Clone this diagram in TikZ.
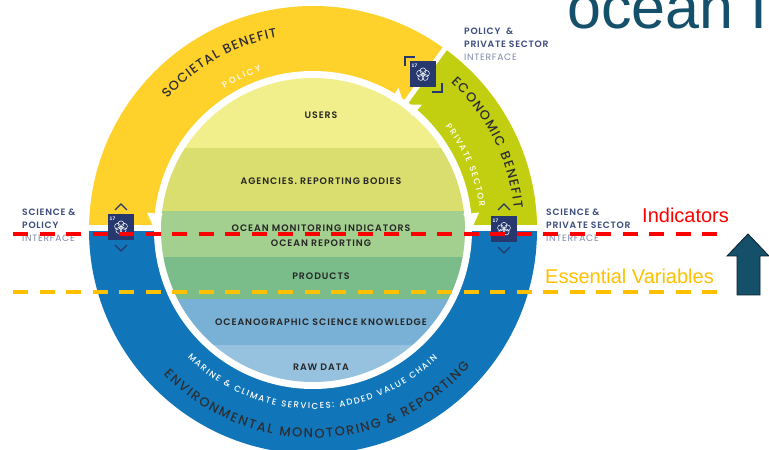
\documentclass[tikz,border=0pt]{standalone}
\usepackage{fontspec}
\usepackage{amsmath}
\setmainfont{Liberation Sans}
\newfontfamily\ringfont{Poppins Medium}
\newfontfamily\bandfont[LetterSpace=10]{Poppins SemiBold}
\newfontfamily\sidefont[LetterSpace=8]{Poppins SemiBold}
\newfontfamily\subfont[LetterSpace=8]{Poppins}
\usetikzlibrary{arrows,shapes,positioning,decorations.text}
\definecolor{oceanyellow}{RGB}{255,210,43}
\definecolor{oceangreen}{RGB}{193,207,16}
\definecolor{oceanblue}{RGB}{17,118,185}
\definecolor{bandusers}{RGB}{241,239,139}
\definecolor{bandagency}{RGB}{218,222,110}
\definecolor{bandindic}{RGB}{163,207,143}
\definecolor{bandprod}{RGB}{122,189,139}
\definecolor{bandknow}{RGB}{121,177,214}
\definecolor{bandraw}{RGB}{150,193,223}
\definecolor{sdgnavy}{RGB}{38,56,110}
\definecolor{titleteal}{RGB}{21,80,107}
\definecolor{ringtext}{RGB}{45,45,50}
\definecolor{essyellow}{RGB}{255,192,0}
\tikzstyle{bandlabel} = [font=\bandfont\fontsize{9.4}{10}\selectfont,color=black!85]
\tikzstyle{sidelabel} = [font=\sidefont\fontsize{9.2}{13}\selectfont,color=sdgnavy!90,align=left,anchor=north west,inner sep=0pt]
\tikzstyle{sidesub} = [font=\subfont\fontsize{9.2}{13}\selectfont,color=sdgnavy!60,anchor=north west,inner sep=0pt]
\tikzstyle{ringbig} = [decorate,decoration={text along path,text align={fit to path},text color=ringtext,
  text={|\ringfont\fontsize{13}{13}\selectfont|#1}}]
\tikzstyle{ringsmall} = [decorate,decoration={text along path,text align={fit to path},text color=white,
  text={|\ringfont\fontsize{8.6}{9}\selectfont|#1}}]
\tikzstyle{chevron} = [draw=sdgnavy,line width=1.1pt]
\tikzstyle{ringtip} = [fill=white]
\tikzset{
  sdgbadge/.pic={
    \fill[sdgnavy] (-13,-13) rectangle (13,13);
    \node[font=\bfseries\fontsize{5}{5}\selectfont,color=white,inner sep=0pt] at (-8.5,8.5) {17};
    \foreach \a in {18,90,162,234,306}
      \draw[white,line width=0.5pt] (\a:3.6) circle (3);
  }
}
\begin{document}
\begin{tikzpicture}[x=1pt,y=1pt]
\useasboundingbox (0,0) rectangle (769,450);
\clip (0,0) rectangle (769,450);
% Title, cut by the slide
\node[font=\fontsize{61}{61}\selectfont,color=titleteal,anchor=base west,inner sep=0pt] (title) at (567,421) {ocean I};

% Outer ring
\begin{scope}[shift={(313,220)}]
\begin{scope}
\clip (-240,5) rectangle (240,240);
\fill[oceanyellow] (0,0) circle (224);
\fill[oceangreen] (0,0) -- (0:224) arc (0:54:224) -- cycle;
\draw[white,line width=5pt] (54:150) -- (54:235);
\end{scope}
\begin{scope}
\clip (-240,-2) rectangle (240,-240);
\fill[oceanblue] (0,0) circle (224);
\end{scope}

% Inner disk
\fill[white] (0,0) circle (159);
\begin{scope}
\clip (0,0) circle (152);
\fill[bandusers] (-160,160) rectangle (160,82);
\fill[bandagency] (-160,82) rectangle (160,19);
\fill[bandindic] (-160,19) rectangle (160,-27);
\fill[bandprod] (-160,-27) rectangle (160,-69);
\fill[bandknow] (-160,-69) rectangle (160,-115);
\fill[bandraw] (-160,-115) rectangle (160,-160);
\end{scope}
\fill[white] (-158,-2) rectangle (-152,5);
\fill[white] (158,-2) rectangle (152,5);

% Ring arrow heads
\fill[ringtip] (178.6:160) -- (174:151) -- (174:167) -- cycle;
\fill[ringtip] (1.4:160) -- (6:151) -- (6:167) -- cycle;
\fill[ringtip] (54.6:156) -- (59:151) -- (59:166) -- cycle;
\fill[ringtip] (53.4:156) -- (49:151) -- (49:166) -- cycle;

% Text on the ring
\path[ringbig=SOCIETAL BENEFIT] (138:196) arc (138:100.5:196);
\path[ringsmall=POLICY] (122:167) arc (122:108:167);
\path[ringbig=ECONOMIC BENEFIT] (47:202) arc (47:6:202);
\path[ringsmall=PRIVATE SECTOR] (38:168) arc (38:8:168);
\path[ringbig=ENVIRONMENTAL MONOTORING {\&} REPORTING] (224:208) arc (224:319:208);
\path[ringsmall=MARINE {\&} CLIMATE SERVICES: ADDED VALUE CHAIN] (225.5:179) arc (225.5:314:179);
\end{scope}

% Band labels
\node[bandlabel] (users) at (321,335) {USERS};
\node[bandlabel] (agencies) at (321,269) {AGENCIES. REPORTING BODIES};
\node[bandlabel] (indicators) at (321,222) {OCEAN MONITORING INDICATORS};
\node[bandlabel] (reporting) at (321,207) {OCEAN REPORTING};
\node[bandlabel] (products) at (321,174) {PRODUCTS};
\node[bandlabel] (knowledge) at (321,128) {OCEANOGRAPHIC SCIENCE KNOWLEDGE};
\node[bandlabel] (rawdata) at (321,83) {RAW DATA};

% Badges
\pic at (121,222.5) {sdgbadge};
\pic at (504,221) {sdgbadge};
\pic at (423,375.5) {sdgbadge};
\draw[chevron] (115,240) -- (121,246) -- (127,240);
\draw[chevron] (115,205) -- (121,199) -- (127,205);
\draw[chevron] (498,240) -- (504,246) -- (510,240);
\draw[chevron] (498,203) -- (504,197) -- (510,203);
\draw[chevron] (405,384) -- (405,393) -- (415,393);
\draw[chevron] (432,358) -- (442,358) -- (442,367);

% Interface labels
\node[sidelabel] (sciencepolicy) at (22,241) {SCIENCE \&\\POLICY};
\node[sidesub,below=6pt of sciencepolicy.south west,anchor=north west] (interfaceA) {INTERFACE};
\node[sidelabel] (policyprivate) at (464,422) {POLICY \ \&\\PRIVATE SECTOR};
\node[sidesub,below=6pt of policyprivate.south west,anchor=north west] (interfaceB) {INTERFACE};
\node[sidelabel] (scienceprivate) at (546,241) {SCIENCE \&\\PRIVATE SECTOR};
\node[sidesub,below=6pt of scienceprivate.south west,anchor=north west] (interfaceC) {INTERFACE};

% Levels
\coordinate (redL) at (13,216);
\coordinate (redR) at (727,216);
\coordinate (yellowL) at (13,158);
\coordinate (yellowR) at (727,158);
\draw[red,line width=3.2pt,dash pattern=on 15pt off 11.5pt] (redL) -- (redR);
\draw[essyellow,line width=3.2pt,dash pattern=on 15pt off 11.5pt] (yellowL) -- (yellowR);
\node[font=\fontsize{20}{20}\selectfont,color=red,anchor=base west,inner sep=0pt] (indic) at (642,227) {Indicators};
\node[font=\fontsize{20}{20}\selectfont,color=essyellow,anchor=base west,inner sep=0pt] (essvar) at (545,166) {Essential Variables};

% Up arrow
\draw[fill=titleteal,draw=black!60!titleteal,line width=0.8pt] (748,216) -- (769,194) -- (760,194) -- (760,155) -- (737,155) -- (737,194) -- (727,194) -- cycle;
\end{tikzpicture}
\end{document}
